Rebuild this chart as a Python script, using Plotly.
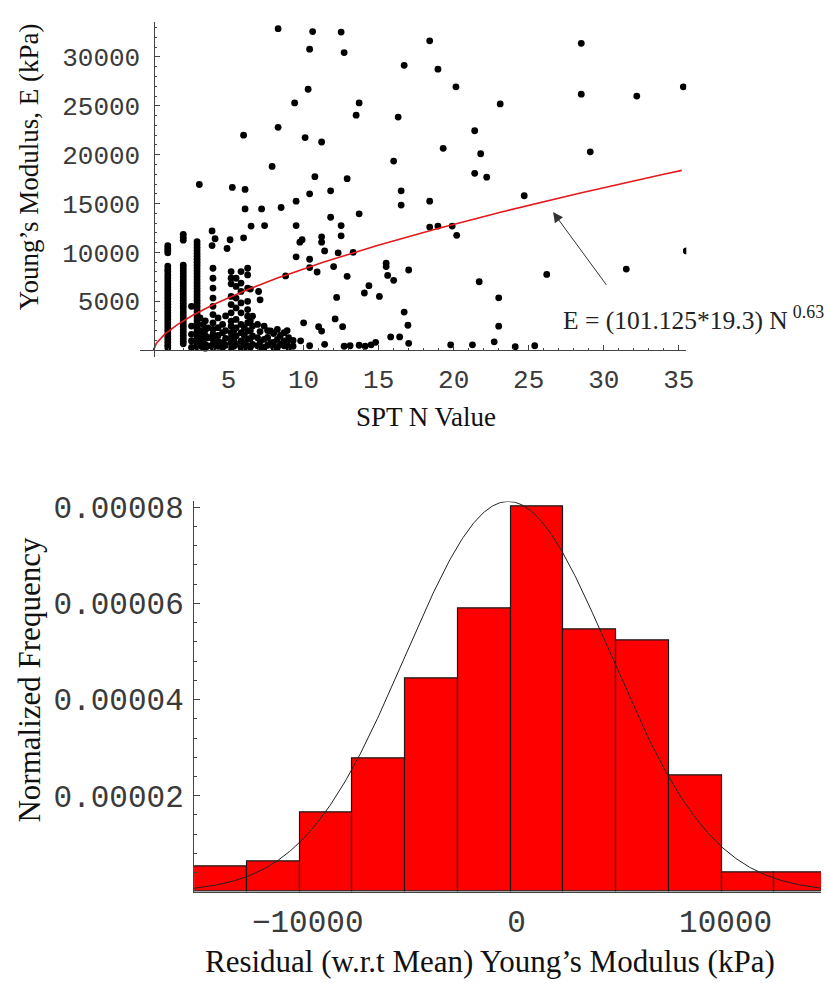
import numpy as np
import plotly.graph_objects as go

W, H = 829, 985

# ---------------- top panel: SPT N vs Young's modulus ----------------
# scattered points (N, E in kPa)
sparse_n = [8.3, 10.6, 12.5, 10.4, 12.7, 16.7, 10.3, 9.4, 13.7, 13.5,
            16.3, 8.3, 6.0, 10.1, 11.2, 7.9, 16.0, 10.75, 12.9, 3.05,
            5.25, 6.1, 10.4, 11.8, 16.5, 9.5, 16.5, 6.1, 7.2, 8.5,
            13.7, 11.8, 6.5, 7.4, 9.5, 12.5, 3.9, 6.0, 5.1, 4.1,
            4.9, 3.9, 9.75, 9.9, 11.2, 11.2, 12.5, 11.4, 12.3, 13.3,
            9.5, 10.4, 10.4, 10.9, 12.0, 12.9, 8.8, 15.5, 15.5, 15.6,
            16.0, 17.0, 14.35, 14.05, 15.05, 12.2, 7.0, 7.1, 6.45, 12.1,
            12.6, 10.0, 11.0, 11.2, 16.7, 16.95, 15.8, 16.4, 17.0, 9.8,
            10.4, 11.4, 12.7, 13.1, 13.7, 14.1, 14.5, 14.8, 18.4, 28.5,
            18.95, 20.15, 28.5, 32.2, 35.3, 23.1, 21.4, 19.3, 21.8, 29.1,
            21.4, 22.2, 18.4, 24.7, 18.4, 18.95, 19.9, 20.2, 35.5, 31.5,
            26.2, 21.7, 23.0, 23.0, 19.8, 21.25, 22.7, 24.1, 25.4]
sparse_e = [32900, 32600, 32550, 30800, 30450, 29150, 26700, 25300, 25300, 24050,
            23850, 22800, 22000, 21750, 21300, 18800, 19350, 17750, 17550, 16950,
            16650, 16450, 16000, 16300, 16300, 15250, 14850, 14450, 14450, 14600,
            13950, 13600, 12700, 12750, 12750, 12750, 12200, 11500, 11300, 11400,
            10400, 10700, 11050, 11300, 11600, 11050, 11700, 10150, 9950, 10000,
            9550, 9300, 8450, 8000, 8550, 7550, 7600, 8900, 8550, 7650,
            7150, 8200, 6600, 5850, 5500, 5400, 6000, 5150, 6250, 3200,
            2400, 2800, 2400, 1950, 3900, 2550, 1350, 1350, 700, 950,
            450, 600, 400, 450, 500, 400, 550, 800, 31650, 31400,
            28750, 26950, 26200, 26000, 26950, 25200, 22450, 20650, 20100, 20300,
            18100, 17700, 15250, 15800, 12600, 12700, 12700, 11750, 10150, 8300,
            7750, 7000, 5350, 2450, 550, 550, 850, 350, 450]

# dense columns of points at low N
col1_n = 0.95
col1_e = [10700, 10450, 10200, 9950, 8600, 8300, 8050, 7700, 7400, 7100,
          6800, 6500, 6200, 5900, 5600, 5300, 5000, 4700, 4400, 4100,
          3800, 3500, 3200, 2900, 2600, 2300, 2000, 1700, 1400, 1100,
          800, 500, 250]
col2_n = 1.98
col2_e = [11850, 11550, 11250, 8700, 8400, 8100, 7800, 7500, 7200, 6900,
          6600, 6300, 6000, 5700, 5400, 5100, 4800, 4500, 4200, 3900,
          3600, 3300, 3000, 2700, 2400, 2100, 1800, 1500, 1200, 900, 650]
col3_n = 2.9
col3_e = [11100, 10800, 10500, 10200, 9900, 9600, 9300, 9000, 8700, 8400,
          8100, 7800, 7500, 7200, 6900, 6600, 6300, 6000, 5700, 5400,
          5100, 4800, 4500, 4200, 3900, 3600, 3300, 3000, 2700, 2400,
          2100, 1800, 1500, 1200, 900, 600, 350]

# cluster of points between N = 2.5 and 9.3
cluster_n = [2.53, 2.53, 2.53, 2.53, 2.53,
             3.3, 3.3, 3.3, 3.3,
             3.63, 3.63, 3.63,
             3.96, 3.96, 3.96, 3.96, 3.96, 3.96, 3.96, 3.96, 3.96, 3.96, 3.96, 3.96,
             4.6, 4.6, 4.6, 4.6,
             5.17, 5.17, 5.17, 5.17, 5.17, 5.17, 5.17, 5.17, 5.17, 5.17, 5.17, 5.17,
             5.5, 5.5, 5.5, 5.5, 5.5, 5.5, 5.5, 5.5,
             5.83, 5.83, 5.83, 5.83, 5.83, 5.83, 5.83, 5.83, 5.83,
             6.27, 6.27, 6.27, 6.27, 6.27, 6.27, 6.27, 6.27, 6.27, 6.27,
             6.6, 6.6, 6.6, 6.6,
             6.93, 6.93, 6.93,
             7.37, 7.37, 7.37,
             7.8, 7.8,
             8.25, 8.25, 8.25,
             8.7, 8.7, 8.7,
             9.0, 9.0]
cluster_e = [4490, 2460, 1620, 940, 270,
             2630, 1790, 940, 270,
             2290, 1280, 440,
             8380, 7360, 6350, 5330, 4490, 3640, 2800, 2120, 1620, 1110, 600, 270,
             2630, 1790, 770, 270,
             8040, 7360, 6790, 5500, 4660, 3820, 2970, 2460, 1790, 1280, 770, 270,
             7360, 6520, 5330, 4320, 3140, 2290, 1450, 600,
             8040, 6860, 6010, 4830, 3820, 2630, 1790, 940, 270,
             8380, 7700, 6350, 5000, 4150, 3480, 2800, 1960, 1110, 440,
             3480, 2460, 1450, 600,
             2630, 1280, 440,
             2460, 1110, 270,
             1960, 770,
             2120, 1110, 270,
             1790, 940, 440,
             1280, 270]

# extra points filling the low-modulus band (E < 3500 kPa)
band_n = [3.1, 3.1, 3.1, 3.1,
          3.45, 3.45, 3.45, 3.45, 3.45,
          4.3, 4.3, 4.3, 4.3, 4.3,
          4.8, 4.8, 4.8, 4.8,
          5.35, 5.35, 5.35,
          6.05, 6.05, 6.05, 6.05,
          6.45, 6.45, 6.45, 6.45,
          7.1, 7.1, 7.1,
          7.6, 7.6, 7.6,
          8.0, 8.0, 8.0,
          8.45, 8.45,
          8.9, 8.9,
          9.3, 9.3]
band_e = [3300, 2000, 1200, 500,
          3000, 2100, 1500, 600, 200,
          3300, 2300, 1500, 900, 400,
          3500, 2000, 1200, 500,
          2000, 1000, 400,
          2300, 1500, 700, 250,
          3000, 2000, 1200, 300,
          1900, 800, 300,
          2000, 1300, 500,
          1700, 800, 300,
          1500, 600,
          2000, 700,
          1000, 400]

top_xticks = [5, 10, 15, 20, 25, 30, 35]
top_yticks = [5000, 10000, 15000, 20000, 25000, 30000]
top_yticktext = ["5000", "10000", "15000", "20000", "25000", "30000"]

# fitted relation  E = (101.125*19.3) N^0.63
fit_a = 101.125
fit_b = 19.3
fit_exp = 0.63
fit_n_max = 35.2

# ---------------- bottom panel: residual histogram ----------------
bin_edges = [-15430, -12906, -10382, -7858, -5334, -2810, -286,
             2238, 4762, 7286, 9810, 12334, 14858]
densities = [5.26e-6, 6.39e-6, 1.656e-5, 2.769e-5, 4.433e-5, 5.891e-5,
             8.006e-5, 5.45e-5, 5.22e-5, 2.427e-5, 4.12e-6, 4.12e-6]
normal_mean = -400.0
normal_sd = 4913.0

hist_yticks = [2e-5, 4e-5, 6e-5, 8e-5]
hist_yticktext = ["0.00002", "0.00004", "0.00006", "0.00008"]
hist_xticks = [-10000, 0, 10000]
hist_xticktext = ["\u221210000", "0", "10000"]

# ---------------- build ----------------
all_n = (sparse_n + [col1_n] * len(col1_e) + [col2_n] * len(col2_e)
         + [col3_n] * len(col3_e) + cluster_n + band_n)
all_e = sparse_e + col1_e + col2_e + col3_e + cluster_e + band_e

fit_n = np.linspace(0, fit_n_max, 400)
fit_e = fit_a * fit_b * fit_n ** fit_exp

centers = [(bin_edges[i] + bin_edges[i + 1]) / 2 for i in range(len(densities))]
widths = [bin_edges[i + 1] - bin_edges[i] for i in range(len(densities))]

xr2 = [-15436, 14566]
gx = np.linspace(xr2[0], xr2[1], 500)
gy = np.exp(-((gx - normal_mean) ** 2) / (2 * normal_sd ** 2)) / (normal_sd * np.sqrt(2 * np.pi))


def px_x(p):
    return p / W


def px_y(p):
    return 1 - p / H


fig = go.Figure()
fig.add_trace(go.Scatter(x=all_n, y=all_e, mode="markers",
                         marker=dict(color="black", size=6.8),
                         xaxis="x", yaxis="y", showlegend=False))
fig.add_trace(go.Scatter(x=fit_n, y=fit_e, mode="lines",
                         line=dict(color="#e3191c", width=1.6),
                         xaxis="x", yaxis="y", showlegend=False))
fig.add_trace(go.Bar(x=centers, y=densities, width=widths,
                     marker=dict(color="#ff0000", line=dict(color="#1a1a1a", width=1.2)),
                     xaxis="x2", yaxis="y2", showlegend=False))
fig.add_trace(go.Scatter(x=gx, y=gy, mode="lines",
                         line=dict(color="#222222", width=1),
                         xaxis="x2", yaxis="y2", showlegend=False))

tick_font_top = dict(family="Liberation Mono", size=26, color="#3a3a3a")
tick_font_bot = dict(family="Liberation Mono", size=31, color="#3a3a3a")
axis_col = "#444444"

fig.update_layout(
    width=W, height=H, autosize=False,
    margin=dict(l=0, r=0, t=0, b=0),
    paper_bgcolor="white", plot_bgcolor="white",
    bargap=0,
    xaxis=dict(domain=[px_x(141.7), px_x(693)], range=[-0.88, 35.5],
               anchor="free", position=px_y(344.3),
               showline=True, linecolor=axis_col, linewidth=1.2,
               ticks="inside", ticklen=5, tickcolor=axis_col,
               tickvals=top_xticks,
               minor=dict(ticks="inside", ticklen=2.5, dtick=1, tick0=0, tickcolor=axis_col),
               showgrid=False, zeroline=False, tickfont=tick_font_top,
               ticklabelstandoff=6),
    yaxis=dict(domain=[px_y(351.7), px_y(12.7)], range=[-750, 33624],
               anchor="free", position=px_x(155),
               showline=True, linecolor=axis_col, linewidth=1.2,
               ticks="inside", ticklen=5, tickcolor=axis_col,
               tickvals=top_yticks, ticktext=top_yticktext,
               minor=dict(ticks="inside", ticklen=2.5, dtick=1000, tick0=0, tickcolor=axis_col),
               showgrid=False, zeroline=False, tickfont=tick_font_top,
               ticklabelstandoff=8),
    xaxis2=dict(domain=[px_x(196), 1.0], range=xr2, anchor="y2",
                showline=True, linecolor=axis_col, linewidth=1.2,
                ticks="", tickvals=hist_xticks, ticktext=hist_xticktext,
                showgrid=False, zeroline=False, tickfont=tick_font_bot,
                ticklabelstandoff=2),
    yaxis2=dict(domain=[px_y(891), px_y(497)], range=[0, 8.12e-5], anchor="x2",
                showline=True, linecolor=axis_col, linewidth=1.2,
                ticks="inside", ticklen=6, tickcolor=axis_col,
                tickvals=hist_yticks, ticktext=hist_yticktext,
                minor=dict(ticks="inside", ticklen=3, dtick=4e-6, tick0=0, tickcolor=axis_col),
                showgrid=False, zeroline=False, tickfont=tick_font_bot,
                ticklabelstandoff=3),
)

serif = "Liberation Serif"
annos = [
    dict(text="Young\u2019s Modulus, E (kPa)", x=px_x(29), y=px_y(159), textangle=-90,
         font=dict(family=serif, size=27, color="#111111")),
    dict(text="SPT N Value", x=px_x(430), y=px_y(412),
         font=dict(family=serif, size=27, color="#111111")),
    dict(text="Normalized Frequency", x=px_x(30), y=px_y(677), textangle=-90,
         font=dict(family=serif, size=31, color="#111111")),
    dict(text="Residual (w.r.t Mean) Young\u2019s Modulus (kPa)", x=px_x(495), y=px_y(961),
         font=dict(family=serif, size=31, color="#111111")),
]
for a in annos:
    fig.add_annotation(xref="paper", yref="paper", showarrow=False,
                       xanchor="center", yanchor="middle", **a)

fig.add_annotation(xref="paper", yref="paper", x=px_x(566), y=px_y(312),
                   xanchor="left", yanchor="middle", showarrow=False,
                   text="E = (101.125*19.3) N\u2009<sup>0.63</sup>",
                   font=dict(family=serif, size=25.5, color="#222222"))
# arrow pointing at the fitted curve
fig.add_annotation(xref="x", yref="y", x=26.62, y=14125,
                   axref="x", ayref="y", ax=30.25, ay=6520,
                   text="", showarrow=True, arrowhead=2, arrowsize=2,
                   arrowwidth=1, arrowcolor="#333333")

fig.write_html("out.html", config={"displayModeBar": False},
               post_script="document.body.style.margin='0px';")
